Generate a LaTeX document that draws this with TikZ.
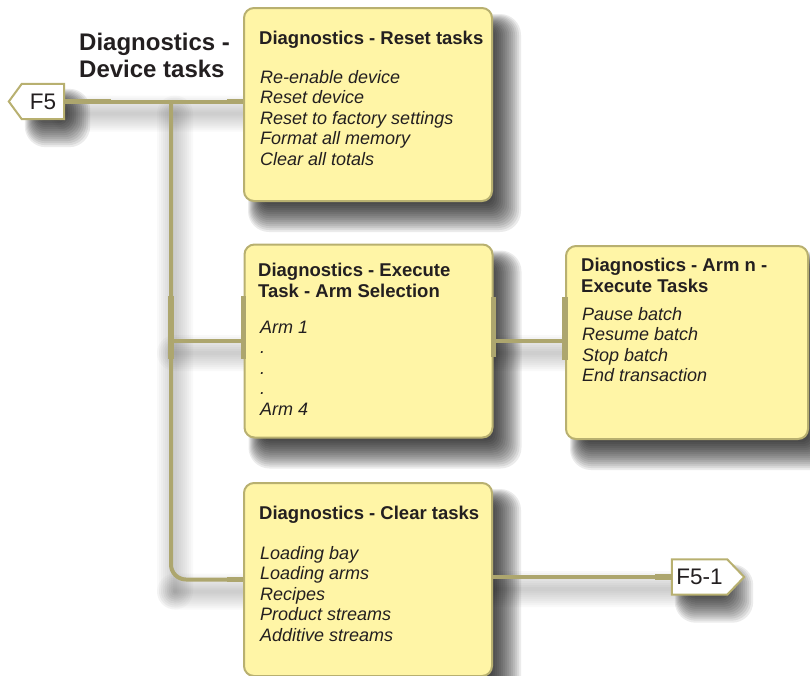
\documentclass[tikz,border=0pt]{standalone}
\usepackage{fontspec}
\setmainfont{Liberation Sans}

\definecolor{notefill}{RGB}{255,245,166}
\definecolor{noteedge}{RGB}{184,176,112}
\definecolor{wire}{RGB}{173,166,110}
\definecolor{ink}{RGB}{35,31,32}

\pgfdeclarelayer{shading}
\pgfsetlayers{shading,main}

\tikzset{
  note/.style={draw=noteedge, line width=2pt, fill=notefill, rounded corners=10pt,
    minimum width=248pt, minimum height=193pt, inner sep=0pt},
  tagtext/.style={rectangle, inner sep=0pt, minimum height=35pt, text=ink,
    font=\fontsize{22.5}{24}\selectfont},
  tagedge/.style={draw=noteedge, line width=2pt, fill=white},
  head/.style={anchor=base west, inner sep=0pt, text=ink,
    font=\fontsize{18.5}{21.5}\selectfont\bfseries},
  items/.style={anchor=base west, inner sep=0pt, text=ink,
    font=\fontsize{18}{20.6}\selectfont\itshape},
  wire/.style={draw=wire, line width=4pt},
  stub/.style={draw=wire, line width=5.5pt},
  shadelayer/.style={fill=black, opacity=#1},
}

% soft drop shadow falling to the lower right, built from stacked translucent layers
\newcommand{\softshadow}[3]{% node, x offset, y offset
  \foreach \r in {-6,-4,...,22}{%
    \pgfmathsetmacro{\rc}{max(2,10+\r/2)}%
    \pgfmathsetmacro{\lead}{10-\r/2}%
    \fill[shadelayer=0.08, rounded corners=\rc pt]
      ([shift={(#2+\lead,#3+\lead)}]#1.north west) rectangle ([shift={(#2+\r,#3+\r)}]#1.south east);
  }}
% faint band cast below a wire
\newcommand{\wireshadow}[2]{% two corners of the wire's strip
  \foreach \r in {2,4,...,18}{%
    \fill[shadelayer=0.022, rounded corners=\r pt]
      ([shift={(4-\r,12-\r)}]#1) rectangle ([shift={(4+\r,12+\r)}]#2);
  }}
\newcommand{\lines}[2]{\parbox[t]{#1}{\raggedright #2}}

\begin{document}
\begin{tikzpicture}[x=1pt, y=-1pt]
  \useasboundingbox (0,0) rectangle (810,675);

  % section heading
  \node[anchor=base west, inner sep=0pt, text=ink,
        font=\fontsize{24}{27}\selectfont\bfseries] (heading) at (79,50)
        {\lines{170pt}{Diagnostics -\\Device tasks}};

  % task boxes
  \node[note] (reset) at (368,104.5) {};
  \node[note] (exec)  at (368.5,341) {};
  \node[note, minimum width=242pt] (arm) at (687,342.5) {};
  \node[note] (clear) at (368,579.5) {};

  % tag label frames
  \node[tagtext, minimum width=42pt] (f5) at (43,101.5) {};
  \node[tagtext, minimum width=55pt] (f51) at (699.5,577) {};
  \coordinate (split) at (171,101.5);

  % shadows
  \begin{pgfonlayer}{shading}
    \softshadow{reset}{6}{8}
    \softshadow{exec}{6}{8}
    \softshadow{arm}{6}{8}
    \softshadow{clear}{6}{8}
    \softshadow{f5}{4}{6}
    \softshadow{f51}{4}{6}
    \wireshadow{f5.east}{reset.west |- split}
    \wireshadow{split}{split |- clear.west}
    \wireshadow{split |- exec.west}{exec.west}
    \wireshadow{split |- clear.west}{clear.west}
    \wireshadow{exec.east}{exec.east -| arm.west}
    \wireshadow{f51.west -| clear.east}{f51.west}
  \end{pgfonlayer}

  % tag outlines and labels
  \draw[tagedge] (f5.north west) -- (f5.north east) -- (f5.south east)
    -- (f5.south west) -- ([xshift=-13pt]f5.west) -- cycle;
  \draw[tagedge] (f51.north west) -- (f51.north east) -- ([xshift=17pt]f51.east)
    -- (f51.south east) -- (f51.south west) -- cycle;
  \node[tagtext] (f5label) at (f5) {F5};
  \node[tagtext] (f51label) at (f51) {F5-1};

  % box texts
  \node[head] (resethead) at (259,44) {Diagnostics - Reset tasks};
  \node[items] (resetitems) at (260,83)
    {\lines{225pt}{Re-enable device\\Reset device\\Reset to factory settings\\Format all memory\\Clear all totals}};

  \node[head] (exechead) at (258,276)
    {\lines{225pt}{Diagnostics - Execute\\Task - Arm Selection}};
  \node[items] (execitems) at (260,333)
    {\lines{225pt}{Arm 1\\.\\.\\.\\Arm 4}};

  \node[head] (armhead) at (581,271)
    {\lines{225pt}{Diagnostics - Arm n -\\Execute Tasks}};
  \node[items] (armitems) at (582,320)
    {\lines{220pt}{Pause batch\\Resume batch\\Stop batch\\End transaction}};

  \node[head] (clearhead) at (259,519) {Diagnostics - Clear tasks};
  \node[items] (clearitems) at (260,559)
    {\lines{225pt}{Loading bay\\Loading arms\\Recipes\\Product streams\\Additive streams}};

  % connectors
  \draw[wire] (f5.east) -- (f5.east -| reset.west);
  \draw[wire, rounded corners=15pt] (split) |- (clear.west);
  \draw[wire] (split |- exec.west) -- (exec.west);
  \draw[wire] (exec.east) -- (exec.east -| arm.west);
  \draw[wire] (f51.west -| clear.east) -- (f51.west);

  % heavier joints where the wires meet the boxes
  \draw[stub] ([xshift=1pt]f5.east) -- ++(46,0);
  \draw[stub] ([xshift=-16pt]f5.east -| reset.west) -- (f5.east -| reset.west);
  \draw[stub] ([yshift=-18pt]split |- exec.west) -- ([yshift=45pt]split |- exec.west);
  \draw[stub] ([yshift=-18pt]exec.west) -- ([yshift=45pt]exec.west);
  \draw[stub] ([yshift=-16pt]exec.east) -- ([yshift=44pt]exec.east);
  \draw[stub] ([yshift=-19pt]exec.east -| arm.west) -- ([yshift=44pt]exec.east -| arm.west);
  \draw[stub] ([xshift=-16pt]clear.west) -- (clear.west);
  \draw[stub] ([xshift=-17pt]f51.west) -- (f51.west);
\end{tikzpicture}
\end{document}
